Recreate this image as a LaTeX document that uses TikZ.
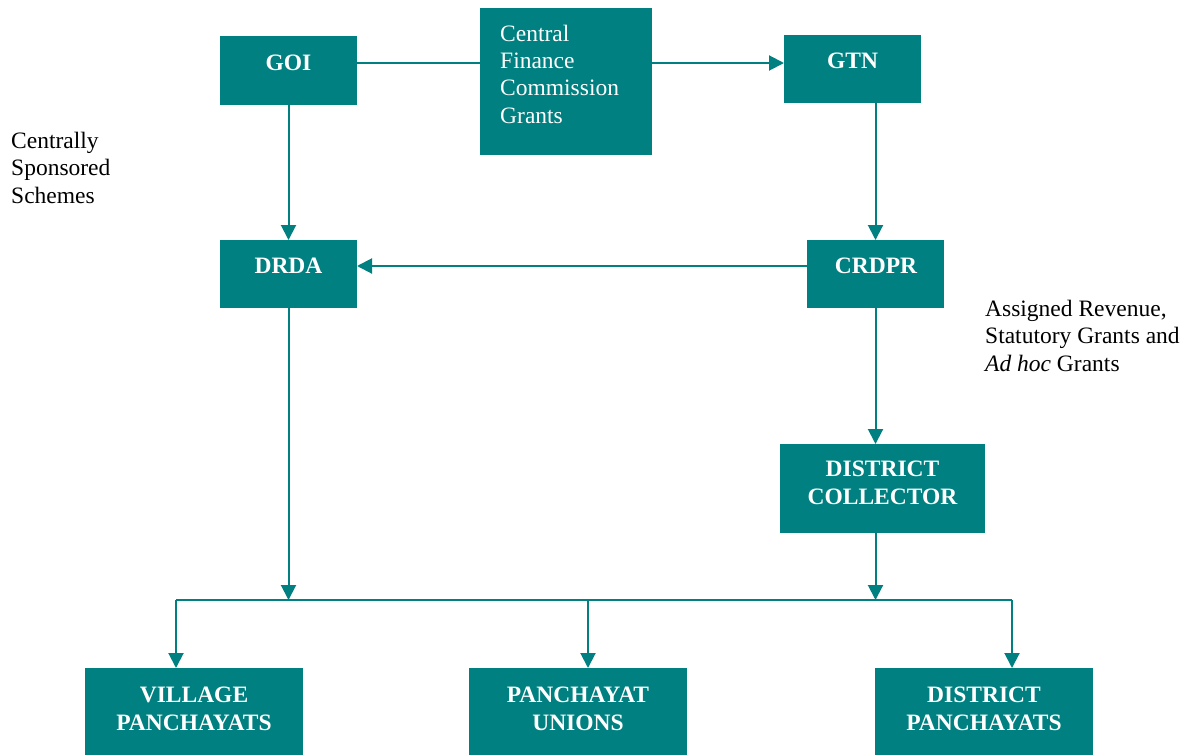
\documentclass[tikz,border=0pt]{standalone}
\usepackage{fontspec}
\setmainfont{Liberation Serif}
\usetikzlibrary{arrows.meta}
\definecolor{teal1}{RGB}{0,128,128}
\tikzset{
  box/.style={fill=teal1, draw=none, inner sep=0pt, outer sep=0pt},
  btext/.style={text=white, font=\fontsize{23.5}{27.5}\selectfont\bfseries, align=center, inner sep=0pt, anchor=base},
  ctext/.style={text=white, font=\fontsize{23.5}{27.3}\selectfont, align=left, inner sep=0pt, anchor=base west},
  ltext/.style={text=black, font=\fontsize{23.5}{27.5}\selectfont, align=left, inner sep=0pt, anchor=base west},
  conn/.style={draw=teal1, line width=2pt},
  arr/.style={conn, -{Triangle[length=15pt,width=15pt]}},
}
\begin{document}
\begin{tikzpicture}[x=1pt,y=-1pt]
\useasboundingbox (0,0) rectangle (1196,755);
% boxes
\node[box, minimum width=137pt, minimum height=69pt] (goi) at (288.5,70.5) {};
\node[box, minimum width=172pt, minimum height=147pt] (cfc) at (566,81.5) {};
\node[box, minimum width=137pt, minimum height=68pt] (gtn) at (852.5,69) {};
\node[box, minimum width=137pt, minimum height=68pt] (drda) at (288.5,274) {};
\node[box, minimum width=137pt, minimum height=68pt] (crdpr) at (875.5,274) {};
\node[box, minimum width=205pt, minimum height=89pt] (dc) at (882.5,488.5) {};
\node[box, minimum width=218pt, minimum height=87pt] (vp) at (194,711.5) {};
\node[box, minimum width=218pt, minimum height=87pt] (pu) at (578,711.5) {};
\node[box, minimum width=218pt, minimum height=87pt] (dp) at (984,711.5) {};
% box texts (anchor = baseline of last line)
\node[btext] (goiT) at (288.5,70) {GOI};
\node[ctext] (cfcT) at (500,123) {Central\\Finance\\Commission\\Grants};
\node[btext] (gtnT) at (852.5,68) {GTN};
\node[btext] (drdaT) at (288.5,273) {DRDA};
\node[btext] (crdprT) at (876,273) {CRDPR};
\node[btext] (dcT) at (882.5,504) {DISTRICT\\COLLECTOR};
\node[btext] (vpT) at (194,730) {VILLAGE\\PANCHAYATS};
\node[btext] (puT) at (578,730) {PANCHAYAT\\UNIONS};
\node[btext] (dpT) at (984,730) {DISTRICT\\PANCHAYATS};
% side labels
\node[ltext] (css) at (11,203) {Centrally\\Sponsored\\Schemes};
\node[ltext] (arg) at (985,371) {Assigned Revenue,\\Statutory Grants and\\\textit{Ad hoc} Grants};
% helper coordinates
\coordinate (h1) at (0,63);
\coordinate (h2) at (0,266);
\coordinate (busL) at (176,600);
\coordinate (busR) at (1012,600);
\coordinate (busM) at (588,600);
% connectors
\draw[conn] (goi.east |- h1) -- (cfc.west |- h1);
\draw[arr] (cfc.east |- h1) -- (gtn.west |- h1);
\draw[arr] (goi.south) -- (drda.north);
\draw[arr] (gtn.south -| crdpr) -- (crdpr.north);
\draw[arr] (crdpr.west |- h2) -- (drda.east |- h2);
\draw[arr] (crdpr.south) -- (dc.north -| crdpr);
\draw[arr] (dc.south -| crdpr) -- (busL -| crdpr);
\draw[arr] (drda.south) -- (busL -| drda);
\draw[conn] (busL) -- (busR);
\draw[arr] (busL) -- (vp.north -| busL);
\draw[arr] (busM) -- (pu.north -| busM);
\draw[arr] (busR) -- (dp.north -| busR);
\end{tikzpicture}
\end{document}
